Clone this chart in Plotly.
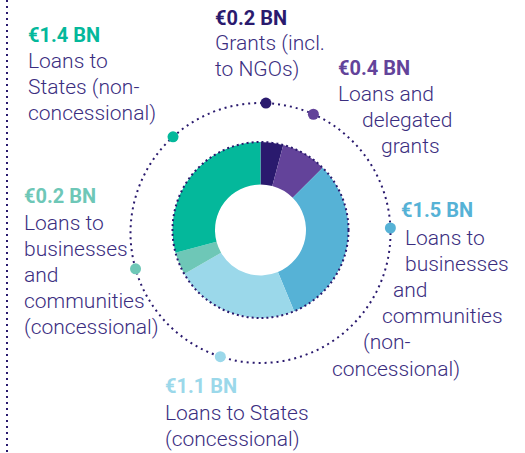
import math
import plotly.graph_objects as go

# ---- data ----
categories = [
    "Grants (incl. to NGOs)",
    "Loans and delegated grants",
    "Loans to businesses and communities (non-concessional)",
    "Loans to States (concessional)",
    "Loans to businesses and communities (concessional)",
    "Loans to States (non-concessional)",
]
values = [0.2, 0.4, 1.5, 1.1, 0.2, 1.4]
value_labels = ["€0.2 BN", "€0.4 BN", "€1.5 BN", "€1.1 BN", "€0.2 BN", "€1.4 BN"]
label_lines = [
    ["Grants (incl.", "to NGOs)"],
    ["Loans and", "delegated", "grants"],
    ["Loans to", "businesses", "and", "communities", "(non-", "concessional)"],
    ["Loans to States", "(concessional)"],
    ["Loans to", "businesses", "and", "communities", "(concessional)"],
    ["Loans to", "States (non-", "concessional)"],
]

# ---- style / layout ----
colors = ["#2a1a6e", "#63439a", "#56b2d6", "#9bd8ea", "#6ec7b7", "#04b89b"]
TEXT = "#3b2e7f"
NAVY = "#2a1a6e"
W, H = 525, 453
CX, CY, R_OUT, R_IN = 260.5, 230, 88, 45.5
RING_CX, RING_CY, RING_R = 260.5, 233, 130
dot_angles = [2.4, 24, 87.8, 198, 254, 317.7]
value_pos = [(215, 25), (338, 75), (401, 217), (165, 393), (24, 203), (28, 42)]
line_x = [
    [215, 215],
    [338, 362, 381],
    [405, 405, 393, 382, 363, 332],
    [165, 165],
    [24, 24, 24, 24, 24],
    [28, 28, 28],
]
first_baseline = [50, 101, 245, 420, 230, 68]
LINE_H = 26.2
PAD = 2.5
FONT = "Roboto"

fig = go.Figure()
fig.add_trace(go.Pie(
    labels=categories, values=values, sort=False, direction="clockwise",
    rotation=0, hole=R_IN / R_OUT, textinfo="none", hoverinfo="label+value",
    marker=dict(colors=colors, line=dict(width=0)), showlegend=False,
    domain=dict(x=[(CX - R_OUT) / W, (CX + R_OUT) / W],
                y=[1 - (CY + R_OUT) / H, 1 - (CY - R_OUT) / H]),
))

# dots on the ring
dx = [RING_CX + RING_R * math.sin(math.radians(a)) for a in dot_angles]
dy = [RING_CY - RING_R * math.cos(math.radians(a)) for a in dot_angles]
fig.add_trace(go.Scatter(x=dx, y=dy, mode="markers", showlegend=False,
                         marker=dict(size=11, color=colors, line=dict(width=0)),
                         hoverinfo="skip"))

shapes = [
    dict(type="circle", xref="x", yref="y",
         x0=RING_CX - RING_R, x1=RING_CX + RING_R,
         y0=RING_CY - RING_R, y1=RING_CY + RING_R,
         line=dict(color=NAVY, width=2, dash="2px,4px"), layer="below"),
    dict(type="circle", xref="x", yref="y",
         x0=CX - R_OUT, x1=CX + R_OUT, y0=CY - R_OUT, y1=CY + R_OUT,
         line=dict(color=NAVY, width=2, dash="2px,3px"), layer="above"),
    dict(type="line", xref="x", yref="y", x0=7, x1=7, y0=0, y1=H,
         line=dict(color=NAVY, width=2, dash="2px,4px")),
]

ann = []
for i in range(len(values)):
    vx, vy = value_pos[i]
    ann.append(dict(x=vx - PAD, y=vy - 7, xref="x", yref="y", text=value_labels[i],
                    xanchor="left", yanchor="middle", showarrow=False,
                    font=dict(family=FONT, size=20, color=colors[i], weight=700)))
    for j, line in enumerate(label_lines[i]):
        ann.append(dict(x=line_x[i][j] - PAD, y=first_baseline[i] + j * LINE_H - 7.5,
                        xref="x", yref="y", text=line,
                        xanchor="left", yanchor="middle", showarrow=False,
                        font=dict(family=FONT, size=21, color=TEXT, weight=300)))

fig.update_layout(
    width=W, height=H, margin=dict(l=0, r=0, t=0, b=0),
    paper_bgcolor="white", plot_bgcolor="rgba(0,0,0,0)",
    xaxis=dict(range=[0, W], visible=False, fixedrange=True),
    yaxis=dict(range=[H, 0], visible=False, fixedrange=True),
    shapes=shapes, annotations=ann,
)

fig.write_html("out.html", config={"displayModeBar": False},
               post_script="document.body.style.margin='0';")
